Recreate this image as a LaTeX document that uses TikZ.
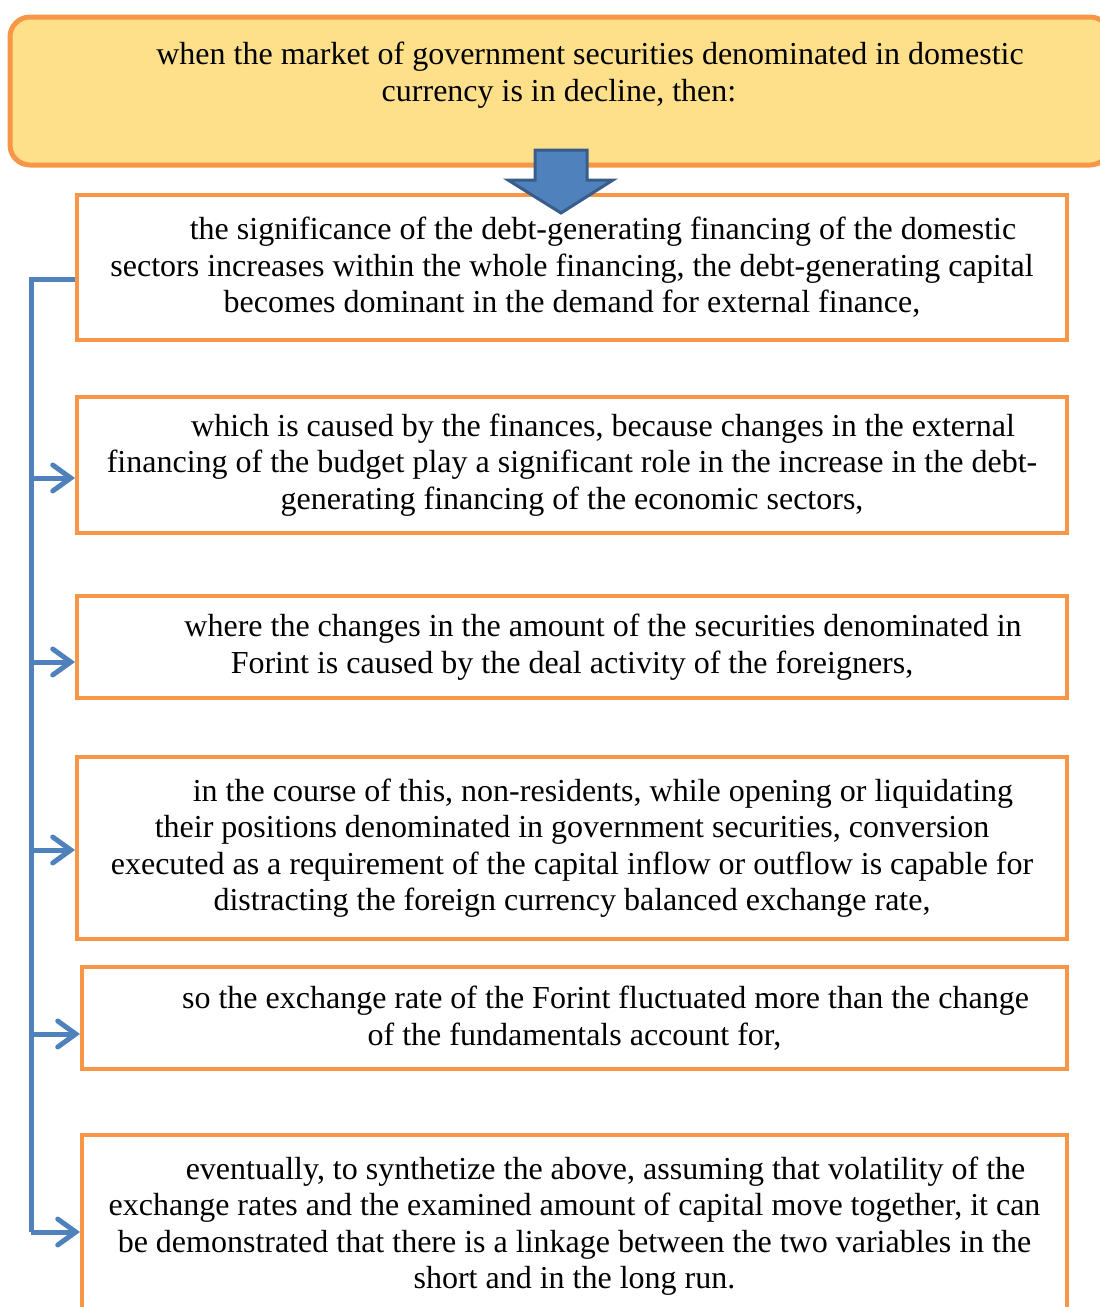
\documentclass[tikz,border=0pt]{standalone}
\usepackage{fontspec}
\setmainfont{Liberation Serif}
\usetikzlibrary{arrows.meta, positioning}

\definecolor{boxorange}{HTML}{F79646}
\definecolor{boxyellow}{HTML}{FEE08B}
\definecolor{linkblue}{HTML}{4F81BD}
\definecolor{darkblue}{HTML}{385D8A}

\begin{document}
\begin{tikzpicture}[x=0.5pt, y=-0.5pt,
    condbox/.style={draw=boxorange, fill=boxyellow, line width=2.5pt, rounded corners=10pt,
        minimum width=550pt, minimum height=74pt},
    stepbox/.style={draw=boxorange, fill=white, line width=2pt, inner sep=0pt,
        minimum width=495pt, align=center, font=\fontsize{16}{18.2}\selectfont},
    plaintext/.style={align=center, inner sep=0pt, font=\fontsize{16}{18.2}\selectfont},
    link/.style={draw=linkblue, line width=2.5pt},
    arr/.style={link, -{Straight Barb[length=9pt, width=13pt, line cap=round]}}]
    \useasboundingbox (0,0) rectangle (1099,1307);

    % Kopfzeile
    \node[condbox] (cond) at (560,91) {};
    \node[plaintext] (condtext) at (559,75) {\hspace*{31pt}when the market of government securities denominated in domestic\\
        currency is in decline, then:};

    % Die einzelnen Schritte
    \node[stepbox, minimum height=72.5pt] (s1) at (572,267.5) {\hspace*{31pt}the significance of the debt-generating financing of the domestic\\
        sectors increases within the whole financing, the debt-generating capital\\
        becomes dominant in the demand for external finance,};
    \node[stepbox, minimum height=68pt] (s2) at (572,465) {\hspace*{31pt}which is caused by the finances, because changes in the external\\
        financing of the budget play a significant role in the increase in the debt-\\
        generating financing of the economic sectors,};
    \node[stepbox, minimum height=51pt] (s3) at (572,647) {\hspace*{31pt}where the changes in the amount of the securities denominated in\\
        Forint is caused by the deal activity of the foreigners,};
    \node[stepbox, minimum height=91pt] (s4) at (572,848) {\hspace*{31pt}in the course of this, non-residents, while opening or liquidating\\
        their positions denominated in government securities, conversion\\
        executed as a requirement of the capital inflow or outflow is capable for\\
        distracting the foreign currency balanced exchange rate,};
    \node[stepbox, minimum height=51pt, minimum width=492.5pt] (s5) at (574.5,1018) {\hspace*{31pt}so the exchange rate of the Forint fluctuated more than the change\\
        of the fundamentals account for,};
    \node[stepbox, minimum height=91pt, minimum width=492.5pt] (s6) at (574.5,1226) {\hspace*{31pt}eventually, to synthetize the above, assuming that volatility of the\\
        exchange rates and the examined amount of capital move together, it can\\
        be demonstrated that there is a linkage between the two variables in the\\
        short and in the long run.};

    % Blockpfeil nach unten
    \draw[fill=linkblue, draw=darkblue, line width=1.5pt]
        (535,150) -- (587,150) -- (587,180) -- (613,180) -- (561,213)
        -- (508,180) -- (535,180) -- cycle;

    % Verbindungen links
    \coordinate (in1) at ([yshift=-5.75pt]s1.west);
    \coordinate (in2) at ([yshift=-6.5pt]s2.west);
    \coordinate (in3) at ([yshift=-7.5pt]s3.west);
    \coordinate (in4) at ([yshift=-1pt]s4.west);
    \coordinate (in5) at ([yshift=-8pt]s5.west);
    \coordinate (in6) at ([yshift=-3pt]s6.west);
    \coordinate (spine) at (31,279);
    \draw[link] (in1) -- (spine) -- (spine |- in6);
    \foreach \k in {2,...,6}
        \draw[arr] (spine |- in\k) -- (in\k);
\end{tikzpicture}
\end{document}
